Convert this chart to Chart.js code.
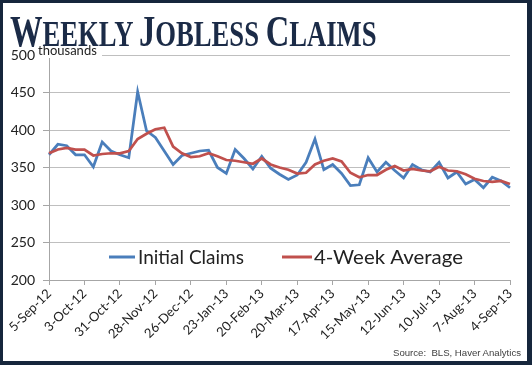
<!DOCTYPE html>
<html>
<head>
<meta charset="utf-8">
<script src="https://cdn.jsdelivr.net/npm/chart.js@4.4.1/dist/chart.umd.min.js"></script>
<style>
  html, body { margin: 0; padding: 0; background: #ffffff; }
  #wrap { position: relative; width: 532px; height: 365px; overflow: hidden; background: #fff; }
  #c { position: absolute; left: 0; top: 0; }
  #frame { position: absolute; left: 0; top: 0; width: 532px; height: 365px; box-sizing: border-box;
           border-style: solid; border-color: #16263c; border-width: 3px 5px 4px 3px; pointer-events: none; }
  #title { position: absolute; left: 10px; top: 10px; font-family: "Liberation Serif", "DejaVu Serif", serif;
           font-weight: bold; color: #1b2b47; white-space: nowrap; line-height: 1;
           transform: scaleX(0.74); transform-origin: 0 0; }
  #title .b { font-size: 44px; }
  #title .s { font-size: 36px; }
  #source { position: absolute; right: 11px; top: 347px; font-family: "Liberation Sans Narrow", "Arial Narrow", "Liberation Sans", sans-serif;
            font-size: 9.6px; color: #404040; white-space: pre; }
</style>
</head>
<body>
<div id="wrap">
  <canvas id="c" width="532" height="365"></canvas>
  <div id="title"><span class="b">W</span><span class="s">EEKLY </span><span class="b">J</span><span class="s">OBLESS </span><span class="b">C</span><span class="s">LAIMS</span></div>
  <div id="source">Source:  BLS, Haver Analytics</div>
  <div id="frame"></div>
</div>
<script>
const weeks = [
  "5-Sep-12","12-Sep-12","19-Sep-12","26-Sep-12","3-Oct-12","10-Oct-12","17-Oct-12","24-Oct-12",
  "31-Oct-12","7-Nov-12","14-Nov-12","21-Nov-12","28-Nov-12","5-Dec-12","12-Dec-12","19-Dec-12",
  "26-Dec-12","2-Jan-13","9-Jan-13","16-Jan-13","23-Jan-13","30-Jan-13","6-Feb-13","13-Feb-13",
  "20-Feb-13","27-Feb-13","6-Mar-13","13-Mar-13","20-Mar-13","27-Mar-13","3-Apr-13","10-Apr-13",
  "17-Apr-13","24-Apr-13","1-May-13","8-May-13","15-May-13","22-May-13","29-May-13","5-Jun-13",
  "12-Jun-13","19-Jun-13","26-Jun-13","3-Jul-13","10-Jul-13","17-Jul-13","24-Jul-13","31-Jul-13",
  "7-Aug-13","14-Aug-13","21-Aug-13","28-Aug-13","4-Sep-13"
];
const tickLabels = ["5-Sep-12","3-Oct-12","31-Oct-12","28-Nov-12","26-Dec-12","23-Jan-13","20-Feb-13",
  "20-Mar-13","17-Apr-13","15-May-13","12-Jun-13","10-Jul-13","7-Aug-13","4-Sep-13"];
const initialClaims = [367,381,379,367,367,351,384,372,367,363,451,399,390,372,354,366,369,372,373,350,
  342,374,362,348,365,349,341,334,340,357,388,347,354,342,326,327,363,344,357,346,
  336,354,347,344,357,336,344,328,334,323,337,332,323];
const fourWeekAverage = [369,374,376,374,374,366,368,369,369,372,388,395,401,403,378,369,364,365,369,365,
  360,359,357,355,362,354,350,347,342,343,354,359,362,358,343,337,340,340,347,352,
  346,348,346,345,351,346,345,341,335,332,331,332,328];
const yTicks = [200,250,300,350,400,450,500];
const seriesNames = ["Initial Claims","4-Week Average"];
const seriesColors = ["#4a7ebb","#c0504d"];

const FONT = "Lato, 'Open Sans', sans-serif";

const overlay = {
  id: 'overlay',
  afterDraw(chart) {
    const ctx = chart.ctx;
    ctx.save();
    // "thousands" label
    ctx.font = "13px " + FONT;
    ctx.fillStyle = "#fff";
    ctx.fillRect(37, 44, 65, 14);
    ctx.fillStyle = "#222";
    ctx.textBaseline = "alphabetic";
    ctx.textAlign = "left";
    ctx.fillText("thousands", 38, 55);
    // legend
    const ly = 257;
    const items = [{x0:109, x1:135, tx:138, w:106}, {x0:282, x1:312, tx:314, w:149}];
    ctx.font = "19px " + FONT;
    ctx.textBaseline = "middle";
    items.forEach((it, i) => {
      ctx.strokeStyle = seriesColors[i];
      ctx.lineWidth = 3;
      ctx.beginPath(); ctx.moveTo(it.x0, ly); ctx.lineTo(it.x1, ly); ctx.stroke();
      ctx.fillStyle = "#222";
      const mw = ctx.measureText(seriesNames[i]).width;
      ctx.save();
      ctx.translate(it.tx, ly + 1);
      ctx.scale(it.w / mw, 1);
      ctx.fillText(seriesNames[i], 0, 0);
      ctx.restore();
    });
    ctx.restore();
  }
};

new Chart(document.getElementById('c'), {
  type: 'line',
  data: {
    labels: weeks,
    datasets: [
      { label: seriesNames[0], data: initialClaims, borderColor: seriesColors[0], borderWidth: 2.75,
        pointRadius: 0, tension: 0, fill: false, order: 2 },
      { label: seriesNames[1], data: fourWeekAverage, borderColor: seriesColors[1], borderWidth: 2.75,
        pointRadius: 0, tension: 0, fill: false, order: 1 }
    ]
  },
  options: {
    responsive: false,
    animation: false,
    devicePixelRatio: 1,
    layout: { padding: { top: 55, right: 22, bottom: 0, left: 0 } },
    plugins: { legend: { display: false }, tooltip: { enabled: false }, title: { display: false } },
    scales: {
      x: {
        type: 'category',
        offset: false,
        afterBuildTicks(axis) {
          axis.ticks = axis.ticks.filter(t => tickLabels.includes(weeks[t.value]));
        },
        afterFit(axis) { axis.height = 85; },
        grid: { display: true, drawOnChartArea: false, drawTicks: true, tickLength: 5, color: '#a6a6a6', lineWidth: 1 },
        border: { display: true, color: '#a6a6a6', width: 1 },
        ticks: { autoSkip: false, maxRotation: 45, minRotation: 45, padding: 1, color: '#222',
                 font: { family: FONT, size: 13 } }
      },
      y: {
        min: 200, max: 500,
        afterBuildTicks(axis) { axis.ticks = yTicks.map(v => ({ value: v })); },
        afterFit(axis) { axis.width = 49; },
        grid: { color: '#bfbfbf', lineWidth: 1, drawTicks: true, tickLength: 6, tickColor: '#a6a6a6' },
        border: { display: true, color: '#a6a6a6', width: 1 },
        ticks: { padding: 8, color: '#222', font: { family: FONT, size: 14 } }
      }
    }
  },
  plugins: [overlay]
});
</script>
</body>
</html>
